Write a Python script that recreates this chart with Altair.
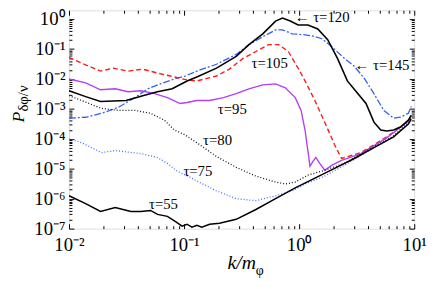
import altair as alt
import pandas as pd
import numpy as np

# ---- data (log10 k/m_phi, log10 P) ----
tau55_logk = [-2.000,-1.855,-1.726,-1.598,-1.462,-1.376,-1.291,-1.231,-1.145,-1.077,-1.017,-0.974,-0.932,-0.889,-0.846,-0.778,-0.692,-0.547,-0.376,-0.205,-0.034,0.137,0.308,0.479,0.650,0.821,0.949,0.974]
tau55_logP = [-5.902,-6.164,-6.426,-6.295,-6.426,-6.426,-6.393,-6.525,-6.590,-6.754,-6.918,-6.852,-6.951,-6.885,-6.951,-6.852,-6.820,-6.689,-6.361,-6.000,-5.639,-5.311,-4.984,-4.656,-4.295,-3.934,-3.508,-3.344]

tau75_logk = [-2.000,-1.889,-1.718,-1.598,-1.376,-1.231,-1.145,-1.060,-0.949,-0.889,-0.718,-0.547,-0.376,-0.205,-0.060,0.051,0.222,0.393,0.650,0.821,0.949,0.974]
tau75_logP = [-4.000,-4.131,-4.459,-4.393,-4.492,-4.623,-4.820,-5.082,-5.279,-5.410,-5.738,-6.000,-6.066,-5.902,-5.738,-5.508,-5.246,-4.885,-4.295,-3.934,-3.443,-3.279]

tau80_logk = [-2.000,-1.889,-1.718,-1.573,-1.427,-1.291,-1.171,-1.085,-0.991,-0.889,-0.718,-0.547,-0.376,-0.205,-0.120,-0.034,0.077,0.222,0.393,0.650,0.821,0.949,0.974]
tau80_logP = [-2.557,-2.721,-2.984,-3.049,-3.049,-3.148,-3.377,-3.705,-3.869,-4.131,-4.590,-4.951,-5.246,-5.443,-5.508,-5.443,-5.213,-5.049,-4.820,-4.262,-3.902,-3.443,-3.279]

tau95_logk = [-2.000,-1.855,-1.726,-1.598,-1.487,-1.376,-1.256,-1.145,-1.034,-0.974,-0.889,-0.778,-0.658,-0.547,-0.436,-0.316,-0.205,-0.120,-0.034,0.017,0.051,0.077,0.094,0.120,0.145,0.179,0.222,0.282,0.368,0.538,0.761,0.949,0.974]
tau95_logP = [-2.000,-2.131,-2.361,-2.328,-2.426,-2.393,-2.492,-2.623,-2.820,-2.787,-2.721,-2.721,-2.623,-2.492,-2.328,-2.197,-2.164,-2.295,-2.623,-3.049,-3.705,-4.426,-4.918,-4.754,-4.623,-4.820,-5.049,-4.885,-4.721,-4.492,-3.967,-3.410,-3.213]

tau105_logk = [-2.000,-1.889,-1.726,-1.615,-1.487,-1.359,-1.231,-1.120,-0.974,-0.889,-0.718,-0.607,-0.487,-0.376,-0.265,-0.179,-0.094,-0.009,0.051,0.137,0.222,0.308,0.368,0.538,0.761,0.949,0.974]
tau105_logP = [-1.279,-1.475,-1.738,-1.639,-1.738,-1.672,-1.803,-1.902,-2.033,-2.066,-1.902,-1.672,-1.311,-1.082,-0.852,-0.852,-1.082,-1.639,-2.066,-2.721,-3.443,-4.197,-4.656,-4.459,-3.934,-3.410,-3.246]

tau120_logk = [-2.000,-1.855,-1.726,-1.504,-1.359,-1.231,-1.103,-0.974,-0.889,-0.718,-0.547,-0.436,-0.316,-0.205,-0.145,-0.077,-0.009,0.077,0.162,0.248,0.333,0.419,0.504,0.581,0.650,0.709,0.761,0.821,0.880,0.949,0.974]
tau120_logP = [-2.393,-2.590,-2.754,-2.721,-2.557,-2.426,-2.328,-2.066,-1.934,-1.639,-1.246,-0.852,-0.492,-0.066,0.033,-0.066,-0.197,-0.197,-0.328,-0.689,-1.311,-2.066,-2.459,-2.820,-3.443,-3.705,-3.738,-3.705,-3.607,-3.377,-3.213]

tau145_logk = [-2.000,-1.855,-1.718,-1.573,-1.427,-1.316,-1.205,-1.085,-0.991,-0.889,-0.718,-0.547,-0.436,-0.316,-0.205,-0.145,-0.060,0.051,0.111,0.197,0.282,0.393,0.479,0.564,0.650,0.735,0.821,0.880,0.949,0.974]
tau145_logP = [-3.311,-3.279,-3.148,-2.951,-2.623,-2.328,-2.164,-2.000,-1.902,-1.738,-1.508,-1.180,-0.852,-0.590,-0.361,-0.361,-0.492,-0.525,-0.557,-0.656,-0.918,-1.311,-1.574,-1.967,-2.492,-3.049,-3.311,-3.279,-3.148,-2.918]

# annotation labels
label_texts = ["\u2190 \u03c4=120", "\u2190 \u03c4=145", "\u03c4=105", "\u03c4=95", "\u03c4=80", "\u03c4=75", "\u03c4=55"]
label_logk = [0.200, 0.720, -0.256, -0.581, -0.709, -0.880, -1.179]
label_logP = [0.066, -1.541, -1.475, -3.016, -4.033, -5.082, -6.164]

# axes
x_domain = [0.01, 10]
y_domain = [1e-7, 1.97]
x_tick_values = [0.01, 0.1, 1, 10]
x_tick_labels = ["10\u207b\u00b2", "10\u207b\u00b9", "10\u2070", "10\u00b9"]
y_tick_values = [1e-7, 1e-6, 1e-5, 1e-4, 1e-3, 1e-2, 1e-1, 1]
y_tick_labels = ["10\u207b\u2077", "10\u207b\u2076", "10\u207b\u2075", "10\u207b\u2074",
                 "10\u207b\u00b3", "10\u207b\u00b2", "10\u207b\u00b9", "10\u2070"]

W, H = 351, 222
FONT = "Liberation Serif"

series = [
    ("145", tau145_logk, tau145_logP, "#3560f0", [7, 2, 2, 2], 1.3),
    ("105", tau105_logk, tau105_logP, "#ff1a1a", [5, 3], 1.4),
    ("95", tau95_logk, tau95_logP, "#b240f5", None, 1.4),
    ("80", tau80_logk, tau80_logP, "#111111", [1, 2], 1.3),
    ("75", tau75_logk, tau75_logP, "#4a6cff", [1, 2], 1.3),
    ("120", tau120_logk, tau120_logP, "#000000", None, 1.6),
    ("55", tau55_logk, tau55_logP, "#000000", None, 1.5),
]

xs = alt.Scale(type="log", domain=x_domain, nice=False)
ys = alt.Scale(type="log", domain=y_domain, nice=False)


def label_expr(values, labels):
    expr = "''"
    for v, lab in zip(reversed(values), reversed(labels)):
        e = int(round(np.log10(v)))
        expr = f"abs(log(datum.value)/LN10 - ({e})) < 0.01 ? '{lab}' : ({expr})"
    return expr


def minor_ticks(lo_exp, hi_exp, top):
    vals = []
    for e in range(lo_exp, hi_exp + 1):
        for m in range(1, 10):
            v = m * 10.0 ** e
            if v <= top * 1.0001:
                vals.append(v)
    return vals


x_all_ticks = minor_ticks(-2, 1, 10)
y_all_ticks = minor_ticks(-7, 0, 1.97)

major_test = "abs(log(datum.value)/LN10 - round(log(datum.value)/LN10)) < 0.001"
tick_size = {"condition": {"test": major_test, "value": 5}, "value": 3}

layers = []
for name, lk, lp, color, dash, sw in series:
    df = pd.DataFrame({"k": 10 ** np.array(lk), "P": 10 ** np.array(lp)})
    kw = dict(color=color, strokeWidth=sw, clip=True)
    if dash:
        kw["strokeDash"] = dash
    layers.append(
        alt.Chart(df).mark_line(**kw).encode(
            x=alt.X("k:Q", scale=xs, axis=None),
            y=alt.Y("P:Q", scale=ys, axis=None),
        )
    )

dom_df = pd.DataFrame({"k": x_domain, "P": y_domain})

main_axes = alt.Chart(dom_df).mark_point(opacity=0).encode(
    x=alt.X("k:Q", scale=xs, axis=alt.Axis(
        orient="bottom", values=x_tick_values, labelExpr=label_expr(x_tick_values, x_tick_labels),
        ticks=False, domain=False, grid=False, title=None, labelFont=FONT, labelFontSize=19,
        labelColor="black", labelPadding=7, labelFlush=False, labelOverlap=False, labelBound=False)),
    y=alt.Y("P:Q", scale=ys, axis=alt.Axis(
        orient="left", values=y_tick_values, labelExpr=label_expr(y_tick_values, y_tick_labels),
        ticks=False, domain=False, grid=False, title=None, labelFont=FONT, labelFontSize=19,
        labelColor="black", labelPadding=4, labelFlush=False, labelOverlap=False, labelBound=False)),
)


def tick_axis(orient, offset, values):
    return alt.Axis(orient=orient, offset=offset, values=values, labels=False, domain=False,
                    grid=False, title=None, ticks=True, tickColor="black", tickWidth=1,
                    tickSize=tick_size)


ticks_a = alt.Chart(dom_df).mark_point(opacity=0).encode(
    x=alt.X("k:Q", scale=xs, axis=tick_axis("top", -H, x_all_ticks)),
    y=alt.Y("P:Q", scale=ys, axis=tick_axis("right", -W, y_all_ticks)),
)
ticks_b = alt.Chart(dom_df).mark_point(opacity=0).encode(
    x=alt.X("k:Q", scale=xs, axis=tick_axis("bottom", -H, x_all_ticks)),
    y=alt.Y("P:Q", scale=ys, axis=tick_axis("left", -W, y_all_ticks)),
)

lab_df = pd.DataFrame({"k": 10 ** np.array(label_logk), "P": 10 ** np.array(label_logP),
                       "t": label_texts})
labels = alt.Chart(lab_df).mark_text(font=FONT, fontSize=15, color="black",
                                     align="center", baseline="middle").encode(
    x=alt.X("k:Q", scale=xs, axis=None),
    y=alt.Y("P:Q", scale=ys, axis=None),
    text="t:N",
)

title_df = pd.DataFrame({"a": [0]})
x_title_main = alt.Chart(title_df).mark_text(font=FONT, fontSize=20, fontStyle="italic",
                                             align="right", baseline="alphabetic", color="black").encode(
    x=alt.value(190), y=alt.value(263), text=alt.value("k/m"))
x_title_sub = alt.Chart(title_df).mark_text(font=FONT, fontSize=14, align="left",
                                            baseline="alphabetic", color="black").encode(
    x=alt.value(190), y=alt.value(269), text=alt.value("\u03c6"))
y_title_main = alt.Chart(title_df).mark_text(font=FONT, fontSize=18, fontStyle="italic", angle=270,
                                             align="left", baseline="alphabetic", color="black").encode(
    x=alt.value(-46), y=alt.value(114), text=alt.value("P"))
y_title_sub = alt.Chart(title_df).mark_text(font=FONT, fontSize=15, angle=270,
                                            align="left", baseline="alphabetic", color="black").encode(
    x=alt.value(-42), y=alt.value(103), text=alt.value("\u03b4\u03c6/\u03bd"))

chart = alt.layer(
    main_axes, ticks_a, ticks_b, *layers, labels,
    x_title_main, x_title_sub, y_title_main, y_title_sub,
).resolve_axis(x="independent", y="independent").properties(
    width=W, height=H,
    autosize=alt.AutoSizeParams(type="none"),
    padding={"left": 62, "top": 0, "right": 14, "bottom": 56},
).configure_view(stroke="black", strokeWidth=1).configure(background="white")

chart.save("out.html", embed_options={"renderer": "svg", "actions": False})
